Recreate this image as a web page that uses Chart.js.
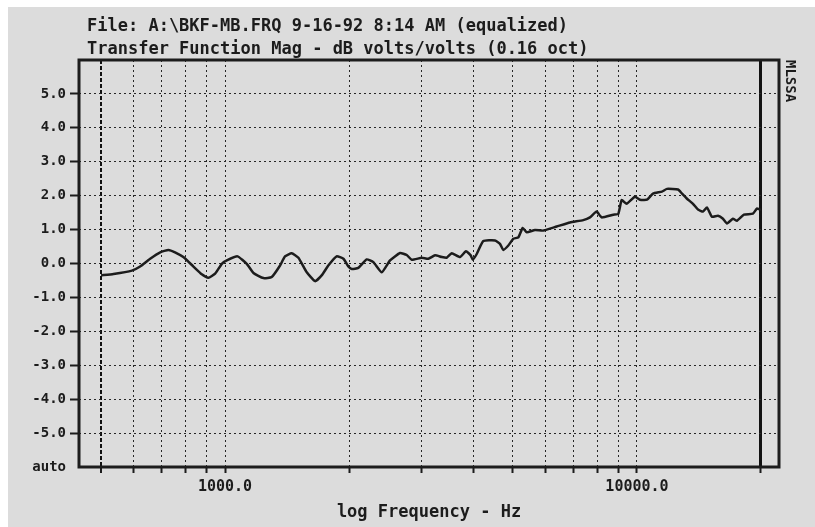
<!DOCTYPE html>
<html>
<head>
<meta charset="utf-8">
<script src="https://cdn.jsdelivr.net/npm/chart.js@4/dist/chart.umd.min.js"></script>
<style>
  html, body { margin: 0; padding: 0; background: #ffffff; }
  #wrap { position: absolute; left: 8px; top: 7px; width: 807px; height: 520px; background: #dcdcdc; }
</style>
</head>
<body>
<div id="wrap"><canvas id="chart" width="807" height="520"></canvas></div>
<script>
// Transfer function magnitude (Hz, dB)
const freqHz = [
  500, 536, 594, 622, 658, 696, 729, 756, 792, 838, 878, 911, 946, 982,
  1010, 1072, 1129, 1172, 1239, 1298, 1360, 1398, 1451, 1507, 1579, 1654,
  1716, 1781, 1866, 1938, 1992, 2030, 2106, 2207, 2291, 2401, 2515, 2660,
  2761, 2839, 3002, 3115, 3234, 3357, 3452, 3550, 3719, 3846, 3948, 3993,
  4083, 4236, 4522, 4650, 4738, 4872, 5010, 5151, 5281, 5400, 5655, 5924,
  6384, 6878, 7407, 7689, 7981, 8206, 8760, 9007, 9180, 9441, 9888, 10168,
  10576, 10935, 11500, 11825, 12578, 12862, 13226, 13677, 14065, 14464,
  14790, 15208, 15727, 16172, 16537, 17100, 17487, 18186, 19120, 19555,
  19883, 20000
];
const magDb = [
  -0.35, -0.31, -0.21, -0.09, 0.14, 0.33, 0.40, 0.33, 0.19, -0.09, -0.32, -0.42, -0.30, -0.01,
  0.09, 0.21, -0.01, -0.28, -0.43, -0.40, -0.06, 0.21, 0.30, 0.17, -0.26, -0.52,
  -0.35, -0.06, 0.21, 0.14, -0.09, -0.16, -0.13, 0.12, 0.04, -0.26, 0.09, 0.31,
  0.25, 0.11, 0.17, 0.14, 0.24, 0.19, 0.17, 0.30, 0.19, 0.36, 0.24, 0.11,
  0.28, 0.66, 0.68, 0.58, 0.40, 0.53, 0.73, 0.77, 1.05, 0.92, 0.99, 0.97,
  1.09, 1.21, 1.28, 1.36, 1.53, 1.36, 1.44, 1.46, 1.87, 1.76, 1.97, 1.88,
  1.88, 2.06, 2.12, 2.20, 2.18, 2.06, 1.91, 1.76, 1.59, 1.53,
  1.65, 1.38, 1.41, 1.32, 1.18, 1.32, 1.26, 1.44, 1.47, 1.62,
  1.59, 1.60
];

// axes
const gridFreqs = [500, 600, 700, 800, 900, 1000, 2000, 3000, 4000, 5000, 6000, 7000, 8000, 9000, 10000, 20000];
const xLabelFreqs = [1000, 10000];
const xLabelTexts = ['1000.0', '10000.0'];
const yTicks = [-6, -5, -4, -3, -2, -1, 0, 1, 2, 3, 4, 5, 6];
const yTickLabels = ['auto', '-5.0', '-4.0', '-3.0', '-2.0', '-1.0', '0.0', '1.0', '2.0', '3.0', '4.0', '5.0', ''];
const titleLines = [
  'File: A:\\BKF-MB.FRQ 9-16-92 8:14 AM (equalized)',
  'Transfer Function Mag - dB volts/volts (0.16 oct)'
];
const xTitle = 'log Frequency - Hz';
const sideLabel = 'MLSSA';

const ink = '#1c1c1c';
const dots = '#262626';

// title, frame and side label
const decorations = {
  id: 'decorations',
  afterDraw(chart) {
    const { ctx, chartArea: a } = chart;
    ctx.save();
    ctx.strokeStyle = ink;
    ctx.lineWidth = 3;
    ctx.strokeRect(a.left, a.top, a.right - a.left, a.bottom - a.top);

    ctx.fillStyle = ink;
    ctx.font = 'bold 17px "DejaVu Sans Mono"';
    ctx.textBaseline = 'alphabetic';
    ctx.fillText(titleLines[0], 79, 24);
    ctx.fillText(titleLines[1], 79, 47);

    ctx.translate(a.right + 11, a.top);
    ctx.rotate(Math.PI / 2);
    ctx.font = 'bold 14px "DejaVu Sans Mono"';
    ctx.textBaseline = 'middle';
    ctx.fillText(sideLabel, 0, 0);
    ctx.restore();
  }
};

new Chart(document.getElementById('chart'), {
  type: 'line',
  data: {
    datasets: [{
      data: freqHz.map((f, i) => ({ x: f, y: magDb[i] })),
      borderColor: ink,
      borderWidth: 2.5,
      pointRadius: 0,
      tension: 0.15,
      fill: false
    }]
  },
  options: {
    responsive: false,
    animation: false,
    events: [],
    layout: { padding: { top: 53, right: 36, bottom: 0, left: 0 } },
    plugins: { legend: { display: false }, tooltip: { enabled: false }, title: { display: false } },
    scales: {
      x: {
        type: 'logarithmic',
        min: 442,
        max: 22120,
        afterFit: (s) => { s.height = 60; },
        afterBuildTicks: (s) => { s.ticks = gridFreqs.map(v => ({ value: v })); },
        ticks: {
          autoSkip: false,
          maxRotation: 0,
          padding: 5,
          color: ink,
          font: { family: 'DejaVu Sans Mono', size: 15, weight: 'bold' },
          callback: (v) => {
            const i = xLabelFreqs.indexOf(v);
            return i >= 0 ? xLabelTexts[i] : '';
          }
        },
        grid: {
          color: (c) => c.tick && (c.tick.value === 20000 || c.tick.value === 500) ? '#111' : dots,
          lineWidth: (c) => {
            if (!c.tick) return 1;
            if (c.tick.value === 20000) return 3;
            if (c.tick.value === 500) return 2;
            return 1;
          },
          tickColor: ink,
          tickWidth: 2,
          tickLength: 6
        },
        border: {
          display: false,
          dash: (c) => c.tick && c.tick.value === 20000 ? [] : (c.tick && c.tick.value === 500 ? [4, 2] : [2, 3])
        },
        title: {
          display: true,
          text: xTitle,
          color: ink,
          font: { family: 'DejaVu Sans Mono', size: 17, weight: 'bold' },
          padding: { top: 0, bottom: 4 }
        }
      },
      y: {
        type: 'linear',
        min: -6,
        max: 6,
        afterFit: (s) => { s.width = 71; },
        afterBuildTicks: (s) => { s.ticks = yTicks.map(v => ({ value: v })); },
        ticks: {
          padding: 4,
          color: ink,
          font: { family: 'DejaVu Sans Mono', size: 14, weight: 'bold' },
          callback: (v) => yTickLabels[yTicks.indexOf(v)]
        },
        grid: {
          color: (c) => c.tick && Math.abs(c.tick.value) === 6 ? 'rgba(0,0,0,0)' : dots,
          lineWidth: 1,
          tickColor: (c) => c.tick && Math.abs(c.tick.value) === 6 ? 'rgba(0,0,0,0)' : ink,
          tickWidth: 2,
          tickLength: 9
        },
        border: { display: false, dash: [2, 3] }
      }
    }
  },
  plugins: [decorations]
});
</script>
</body>
</html>
